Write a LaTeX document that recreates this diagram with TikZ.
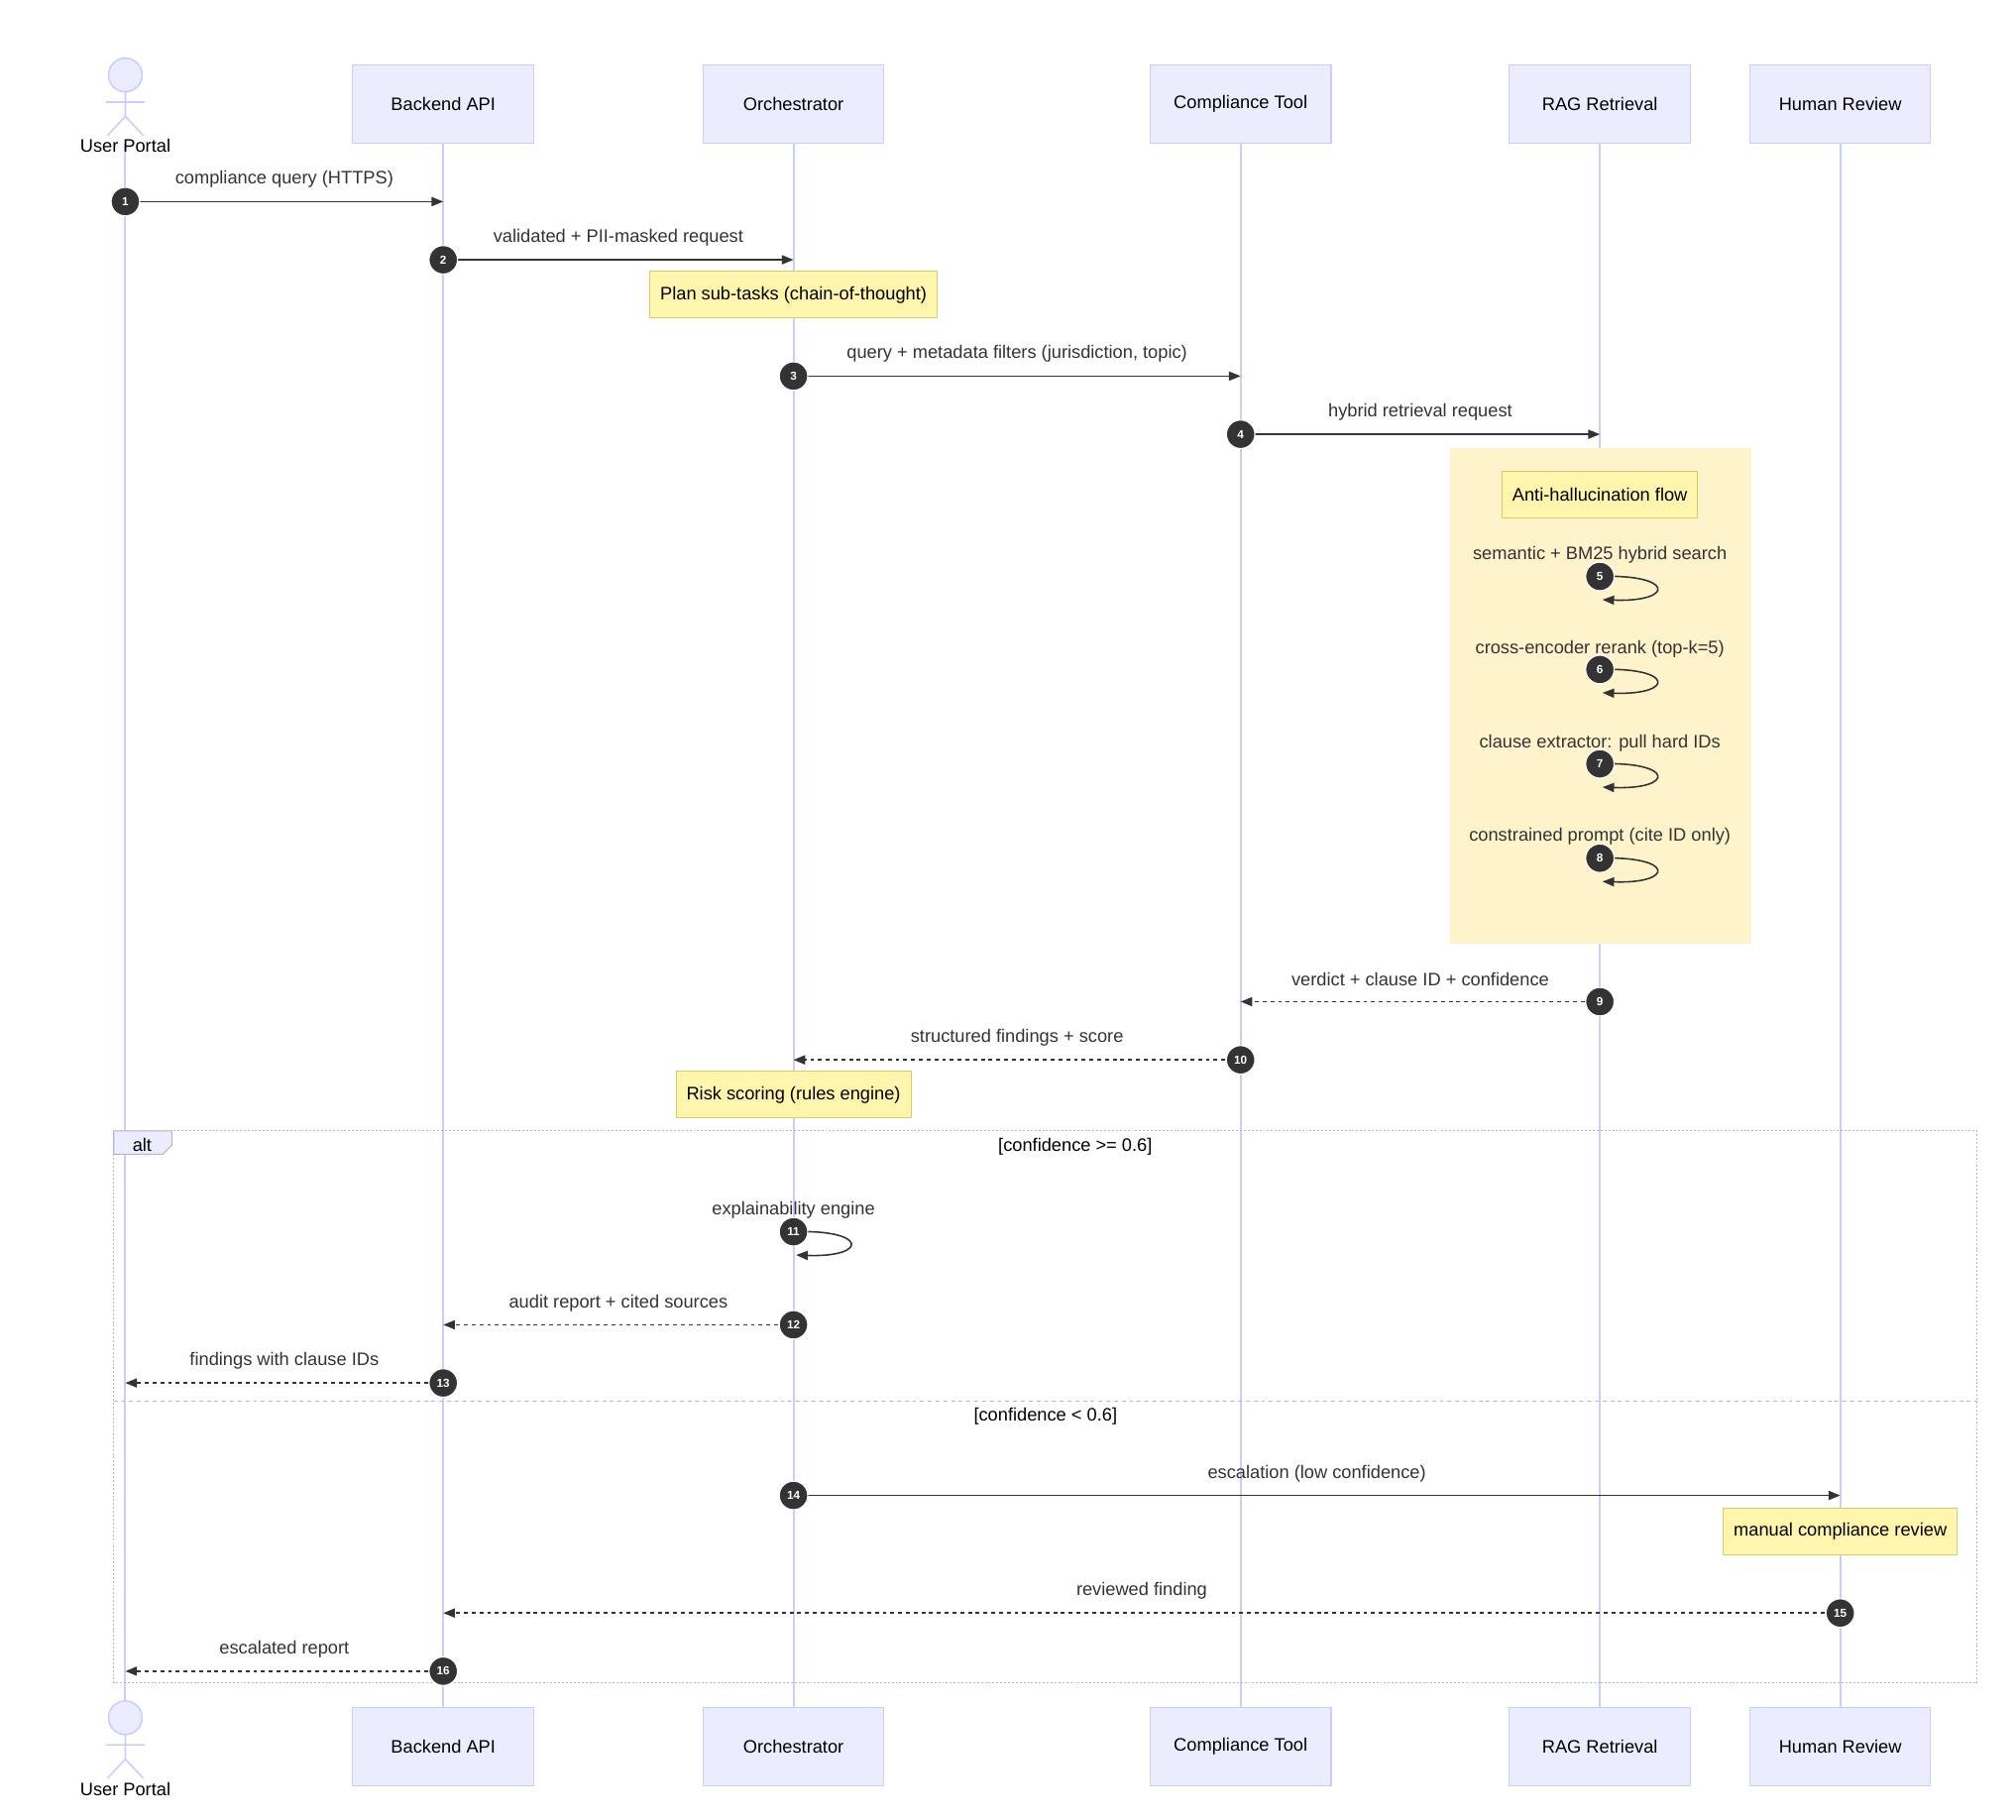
\documentclass[tikz,border=0pt]{standalone}
\usepackage{fontspec}
\setmainfont{Liberation Sans}
\usetikzlibrary{arrows.meta}
\definecolor{actfill}{HTML}{ECECFF}
\definecolor{actline}{HTML}{CCCCFF}
\definecolor{notefill}{HTML}{FFF5AD}
\definecolor{noteline}{HTML}{D6CC6A}
\definecolor{rectfill}{HTML}{FFF3CC}
\definecolor{ink}{HTML}{333333}
\tikzset{
 actor/.style={draw=actline,fill=actfill,minimum width=140pt,minimum height=61pt,font=\fontsize{14}{16}\selectfont,line width=0.8pt},
 life/.style={draw=actline,line width=1.5pt},
 note/.style={draw=noteline,fill=notefill,minimum height=36pt,inner xsep=8pt,font=\fontsize{14}{16}\selectfont,line width=0.8pt},
 lbl/.style={font=\fontsize{14}{16}\selectfont,text=ink},
 num/.style={circle,fill=ink,draw=white,line width=0.8pt,minimum size=22pt,inner sep=0pt,text=white,font=\bfseries\fontsize{9}{10}\selectfont},
 sol/.style={draw=ink,line width=1.2pt,-{Triangle[length=9pt,width=7pt]}},
 dsh/.style={sol,dash pattern=on 3pt off 3pt},
}
\newcommand{\msgx}[7]{% id, y, fromx, tox, label, style, labely
 \coordinate (s#1) at (#3,#2); \coordinate (e#1) at (#4,#2);
 \draw[#6] (s#1) -- (e#1);
 \node[lbl] (l#1) at ({(#3+#4)/2},#7) {#5};
 \node[num] (n#1) at (s#1) {#1};}
\newcommand{\selfx}[5]{% id, x, y, label, labely
 \coordinate (s#1) at (#2,#3); \coordinate (e#1) at (#2+2,#3+18);
 \draw[sol] (s#1) .. controls (#2+58,#3-2) and (#2+58,#3+20) .. (e#1);
 \node[lbl] (l#1) at (#2,#5) {#4};
 \node[num] (n#1) at (s#1) {#1};}
\begin{document}
\begin{tikzpicture}[x=1pt,y=-1pt]
\useasboundingbox[fill=white] (0,0) rectangle (1560,1408);
% lifelines
\foreach \n/\x in {u/97,b/343,o/614,c/960,r/1238,h/1424}{
 \coordinate (t\n) at (\x,111); \coordinate (d\n) at (\x,1321);
 \draw[life] (t\n) -- (d\n);}
% rect
\fill[rectfill] (1122,347) rectangle (1355,730);
% actors
\foreach \n/\x/\t in {b/343/Backend API,o/614/Orchestrator,c/960/Compliance Tool,r/1238/RAG Retrieval,h/1424/Human Review}{
 \node[actor] (top\n) at (\x,80.5) {\t};
 \node[actor] (bot\n) at (\x,1351.5) {\t};}
\foreach \y/\nm in {0/topu,1271/botu}{
 \begin{scope}[yshift=-\y pt]
 \draw[actline,fill=actfill,line width=1.2pt] (97,58) circle (13pt);
 \draw[actline,line width=1.2pt] (97,71) -- (97,90) (82,79) -- (112,79) (97,90) -- (83,105) (97,90) -- (111,105);
 \node[lbl,text=black] (\nm) at (97,113) {User Portal};
 \end{scope}}
% notes
\node[note] (plan) at (614,228) {Plan sub-tasks (chain-of-thought)};
\node[note] (anti) at (1238,382.5) {Anti-hallucination flow};
\node[note] (risk) at (614,847) {Risk scoring (rules engine)};
\node[note] (manual) at (1424,1185) {manual compliance review};
% alt frame
\draw[actline!70!gray,line width=0.8pt,dash pattern=on 1.5pt off 1.5pt] (88,875) rectangle (1530,1302);
\draw[actline!70!gray,line width=0.8pt,dash pattern=on 3pt off 3pt] (88,1084) -- (1530,1084);
\draw[actline!70!gray,fill=actfill,line width=0.8pt] (88,875) -- (133,875) -- (133,886) -- (126,893) -- (88,893) -- cycle;
\node[lbl,text=black] (alt) at (110,886) {alt};
\node[lbl,text=black] (c1) at (832,887) {[confidence >= 0.6]};
\node[lbl,text=black] (c2) at (809,1096) {[confidence < 0.6]};
% messages
\msgx{1}{156}{97}{343}{compliance query (HTTPS)}{sol}{139}
\msgx{2}{201}{343}{614}{validated + PII-masked request}{sol}{184}
\msgx{3}{291}{614}{960}{query + metadata filters (jurisdiction, topic)}{sol}{274}
\msgx{4}{336}{960}{1238}{hybrid retrieval request}{sol}{319}
\selfx{5}{1238}{446}{semantic + BM25 hybrid search}{429}
\selfx{6}{1238}{518}{cross-encoder rerank (top-k=5)}{502}
\selfx{7}{1238}{591}{clause extractor: pull hard IDs}{575}
\selfx{8}{1238}{664}{constrained prompt (cite ID only)}{647}
\msgx{9}{775}{1238}{960}{verdict + clause ID + confidence}{dsh}{758}
\msgx{10}{820}{960}{614}{structured findings + score}{dsh}{803}
\selfx{11}{614}{953}{explainability engine}{936}
\msgx{12}{1025}{614}{343}{audit report + cited sources}{dsh}{1008}
\msgx{13}{1070}{343}{97}{findings with clause IDs}{dsh}{1053}
\msgx{14}{1157}{614}{1424}{escalation (low confidence)}{sol}{1140}
\msgx{15}{1248}{1424}{343}{reviewed finding}{dsh}{1231}
\msgx{16}{1293}{343}{97}{escalated report}{dsh}{1276}
\end{tikzpicture}
\end{document}
